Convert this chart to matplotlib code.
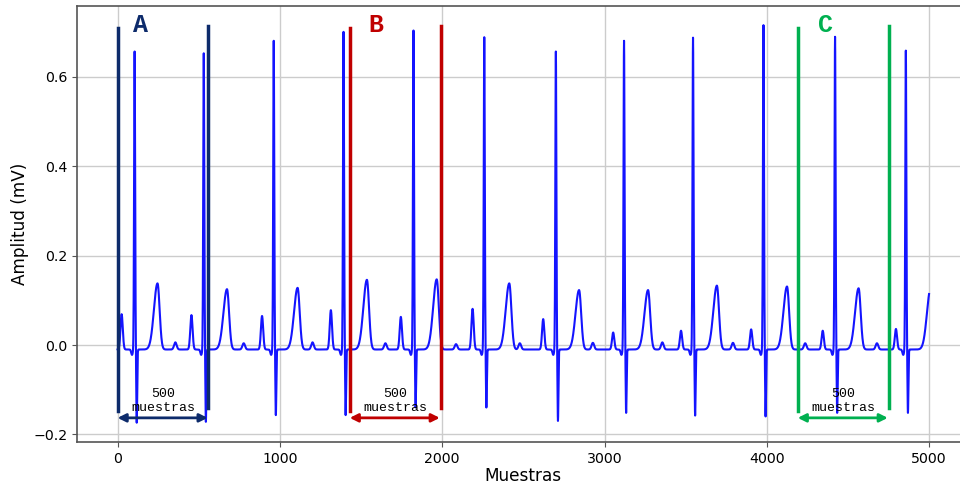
import matplotlib
matplotlib.use("Agg")
import matplotlib.pyplot as plt
import numpy as np

# per-beat values (sample index, amplitude in mV)
r_pos = [105, 531, 962, 1392, 1823, 2259, 2700, 3120, 3545, 3979, 4420, 4856]
r_amp = [0.657, 0.653, 0.681, 0.701, 0.704, 0.689, 0.657, 0.681, 0.688, 0.716, 0.690, 0.659]
s_amp = [-0.174, -0.172, -0.157, -0.157, -0.140, -0.140, -0.170, -0.152, -0.158, -0.160, -0.152, -0.152]
t_pos = [246, 674, 1109, 1536, 1966, 2413, 2843, 3268, 3692, 4124, 4565, 5008]
t_amp = [0.138, 0.125, 0.128, 0.146, 0.147, 0.138, 0.123, 0.123, 0.133, 0.131, 0.127, 0.125]
p_pos = [25, 455, 890, 1314, 1745, 2187, 2622, 3053, 3471, 3903, 4344, 4795]
p_amp = [0.069, 0.067, 0.065, 0.078, 0.063, 0.081, 0.058, 0.028, 0.032, 0.035, 0.032, 0.036]
u_pos = [356, 777, 1201, 1650, 2085, 2478, 2928, 3356, 3791, 4236, 4678]
u_amp = [0.006, 0.004, 0.006, 0.004, 0.002, 0.004, 0.005, 0.006, 0.005, 0.004, 0.004]
baseline = -0.01
n_samples = 5000

# marked 500-sample windows
win_labels = ["A", "B", "C"]
win_start = [0, 1430, 4190]
win_end = [560, 1990, 4750]
win_label_x = [141, 1593, 4364]
win_colors = ["#0d2b6b", "#c00000", "#00b050"]


def bump(n, c, a, s_left, s_right=None):
    s_right = s_left if s_right is None else s_right
    s = np.where(n < c, s_left, s_right)
    return a * np.exp(-((n - c) ** 2) / (2 * s ** 2))


n = np.arange(n_samples)
sig = np.full(n_samples, baseline, dtype=float)
for r, ra, sa in zip(r_pos, r_amp, s_amp):
    sig += bump(n, r, ra - baseline, 3.2)
    sig += bump(n, r + 13, sa - baseline, 2.8)
    sig += bump(n, r - 16, -0.012, 5)
for t, ta in zip(t_pos, t_amp):
    sig += bump(n, t, ta - baseline, 22, 13)
for p, pa in zip(p_pos, p_amp):
    sig += bump(n, p, pa - baseline, 7)
for u, ua in zip(u_pos, u_amp):
    sig += bump(n, u, ua - baseline, 8)

fig = plt.figure(figsize=(9.6, 4.84), dpi=100)
ax = fig.add_axes([0.0802, 0.0868, 0.930, 0.901])

ax.plot(n, sig, color="#1414ff", linewidth=1.5, zorder=3)

for lab, x0, x1, lx, c in zip(win_labels, win_start, win_end, win_label_x, win_colors):
    ax.plot([x0, x0], [-0.148, 0.710], color=c, linewidth=2.5, zorder=4)
    ax.plot([x1, x1], [-0.140, 0.715], color=c, linewidth=2.5, zorder=4)
    ax.annotate("", xy=(x1 - 5, -0.163), xytext=(x0, -0.163),
                arrowprops=dict(arrowstyle="<|-|>", color=c, lw=2,
                                mutation_scale=12, shrinkA=0, shrinkB=0),
                zorder=5)
    ax.text((x0 + x1) / 2, -0.125, "500\nmuestras", ha="center", va="center",
            family="Liberation Mono", fontsize=9.5, linespacing=1.25,
            color="black", zorder=6)
    ax.text(lx, 0.716, lab, ha="center", va="center", family="Liberation Mono",
            fontweight="bold", fontsize=18, color=c, zorder=6)

ax.set_xlim(-250, 5250)
ax.set_ylim(-0.217, 0.759)
ax.set_xticks([0, 1000, 2000, 3000, 4000, 5000])
ax.set_yticks([-0.2, 0.0, 0.2, 0.4, 0.6])
ax.tick_params(labelsize=10.2, color="#555555")
ax.set_xlabel("Muestras", fontsize=12.2, labelpad=1)
ax.set_ylabel("Amplitud (mV)", fontsize=12.2, labelpad=3)
ax.grid(True, color="#cccccc", linewidth=1)
ax.set_axisbelow(True)
for sp in ax.spines.values():
    sp.set_color("#555555")
    sp.set_linewidth(1.2)

fig.savefig("out.png", dpi=100)
